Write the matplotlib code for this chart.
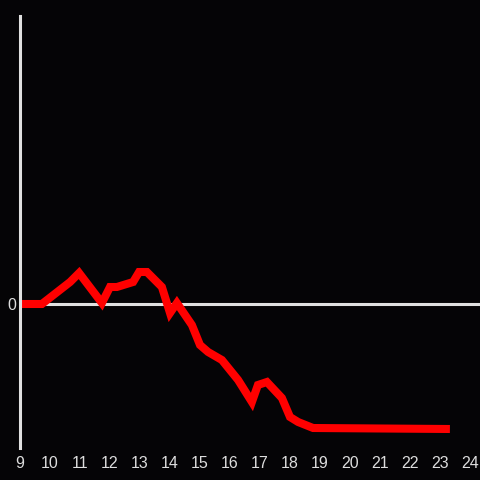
import matplotlib
matplotlib.use("Agg")
import matplotlib.pyplot as plt

# hours of the day and the value at each point
hours = [9.0, 9.73, 10.67, 10.97, 11.73, 12.0, 12.23, 12.77, 12.97, 13.23,
         13.73, 14.0, 14.23, 14.73, 15.0, 15.27, 15.73, 16.27, 16.73, 16.93,
         17.23, 17.73, 18.0, 18.27, 18.77, 23.33]
values = [0, 0, 2.2, 3.1, 0.1, 1.7, 1.7, 2.2, 3.2, 3.2,
          1.7, -0.9, 0.1, -2.1, -4.1, -4.8, -5.6, -7.6, -9.8, -8.1,
          -7.8, -9.4, -11.3, -11.8, -12.4, -12.5]
xticks = list(range(9, 25))

bg = "#050406"
axis_col = "#e0e0e0"

fig = plt.figure(figsize=(4.8, 4.8), dpi=100, facecolor=bg)
ax = fig.add_axes([20 / 480, 32 / 480, 460 / 480, 432 / 480])
ax.set_facecolor(bg)

ax.axhline(0, color=axis_col, lw=2.2, zorder=1)
ax.plot(hours, values, color="#ff0000", lw=5.8, solid_joinstyle="miter",
        solid_capstyle="butt", zorder=2)

ax.set_xlim(9, 24.333)
ax.set_ylim(-14.4, 28.8)

for s in ["top", "right", "bottom"]:
    ax.spines[s].set_visible(False)
ax.spines["left"].set_color(axis_col)
ax.spines["left"].set_linewidth(2.2)

ax.set_xticks(xticks)
ax.set_yticks([0])
ax.tick_params(length=0, colors="#dddddd", labelsize=11.5, pad=6)
ax.tick_params(axis="y", pad=3)
for t in ax.get_xticklabels() + ax.get_yticklabels():
    t.set_fontfamily("Liberation Sans")

fig.savefig("out.png", dpi=100, facecolor=bg)
